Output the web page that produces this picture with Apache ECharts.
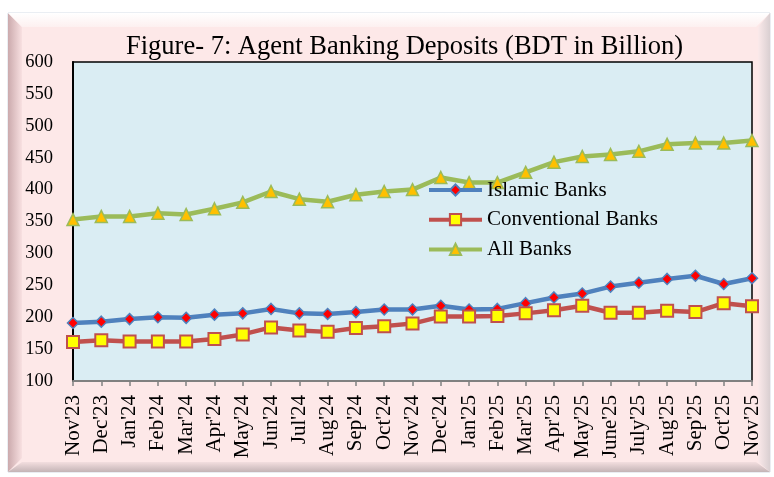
<!DOCTYPE html>
<html>
<head>
<meta charset="utf-8">
<script src="https://cdn.jsdelivr.net/npm/echarts@6/dist/echarts.min.js"></script>
<style>
html,body{margin:0;padding:0;background:#fff;}
#c{width:774px;height:477px;}
</style>
</head>
<body>
<div id="c"></div>
<script>
var categories = ["Nov'23","Dec'23","Jan'24","Feb'24","Mar'24","Apr'24","May'24","Jun'24","Jul'24","Aug'24","Sep'24","Oct'24","Nov'24","Dec'24","Jan'25","Feb'25","Mar'25","Apr'25","May'25","June'25","July'25","Aug'25","Sep'25","Oct'25","Nov'25"];
var islamic = [191,193,197,200,199,204,206,213,206,205,208,212,212,218,212,213,222,231,237,248,254,260,265,252,261];
var conventional = [161,164,162,162,162,166,173,184,179,177,183,186,190,201,201,202,206,211,218,207,207,210,208,222,217];
var allBanks = [353,358,358,363,361,370,380,397,385,381,392,397,400,419,411,411,427,443,452,455,460,471,473,473,477];
var seriesNames = ["Islamic Banks","Conventional Banks","All Banks"];
var titleText = "Figure- 7: Agent Banking Deposits (BDT in Billion)";

var serif = "'Liberation Serif','Times New Roman',serif";
var chart = echarts.init(document.getElementById('c'), null, {renderer:'canvas'});
chart.setOption({
  animation:false,
  backgroundColor:'#ffffff',
  graphic:[
    {type:'rect', z:-10, shape:{x:8,y:13,width:762,height:459},
      style:{fill:'#FDE8E8', stroke:'#D5DCE6', lineWidth:1}},
    {type:'polygon', z:-9, shape:{points:[[8,13],[22,27],[22,458],[8,472]]},
      style:{fill:new echarts.graphic.LinearGradient(0,0,1,0,[{offset:0,color:'#CBAAAD'},{offset:1,color:'#F8E0E1'}])}},
    {type:'polygon', z:-9, shape:{points:[[8,13],[770,13],[756,27],[22,27]]},
      style:{fill:new echarts.graphic.LinearGradient(0,0,0,1,[{offset:0,color:'#FFFFFF'},{offset:1,color:'#FDF0F0'}])}},
    {type:'polygon', z:-9, shape:{points:[[8,472],[770,472],[756,462],[22,462]]},
      style:{fill:new echarts.graphic.LinearGradient(0,1,0,0,[{offset:0,color:'#C4B4B6'},{offset:1,color:'#F3DEDF'}])}},
    {type:'polygon', z:-9, shape:{points:[[770,13],[770,472],[758,462],[758,27]]},
      style:{fill:new echarts.graphic.LinearGradient(1,0,0,0,[{offset:0,color:'#D9CFD1'},{offset:1,color:'#FBE9EA'}])}}
  ],
  title:{
    text:titleText, left:121, top:29, padding:[5,5,5,5],
    textStyle:{fontFamily:serif, fontSize:26.5, fontWeight:'normal', color:'#000'}
  },
  legend:{
    orient:'vertical', left:427, top:179.5, padding:0,
    itemWidth:53, itemHeight:14, itemGap:8.7,
    data:seriesNames,
    lineStyle:{width:4},
    textStyle:{fontFamily:serif, fontSize:21, color:'#000', lineHeight:21}
  },
  grid:{left:73, right:22, top:62, bottom:96, show:true, backgroundColor:'#DAEDF3', borderColor:'#000', borderWidth:1.5},
  xAxis:{
    type:'category', data:categories, boundaryGap:false,
    axisLine:{lineStyle:{color:'#808080', width:2}},
    axisTick:{show:true, length:5, lineStyle:{color:'#808080', width:1.5}},
    axisLabel:{rotate:90, interval:0, margin:14, fontFamily:serif, fontSize:21, color:'#000'}
  },
  yAxis:{
    type:'value', min:100, max:600, interval:50,
    axisLine:{show:true, lineStyle:{color:'#000', width:2}},
    axisTick:{show:false},
    splitLine:{show:false},
    axisLabel:{margin:20, fontFamily:serif, fontSize:18.5, color:'#000'}
  },
  series:[
    {name:seriesNames[0], type:'line', data:islamic, symbol:'diamond', symbolSize:11,
      lineStyle:{color:'#4F81BD', width:4.5},
      itemStyle:{color:'#FF0000', borderColor:'#4F81BD', borderWidth:1.5}},
    {name:seriesNames[1], type:'line', data:conventional, symbol:'rect', symbolSize:12,
      lineStyle:{color:'#C0504D', width:4.5},
      itemStyle:{color:'#FFFF00', borderColor:'#C0504D', borderWidth:2}},
    {name:seriesNames[2], type:'line', data:allBanks, symbol:'triangle', symbolSize:12,
      lineStyle:{color:'#9BBB59', width:4.5},
      itemStyle:{color:'#FFC000', borderColor:'#9BBB59', borderWidth:1.5}}
  ]
});
</script>
</body>
</html>
